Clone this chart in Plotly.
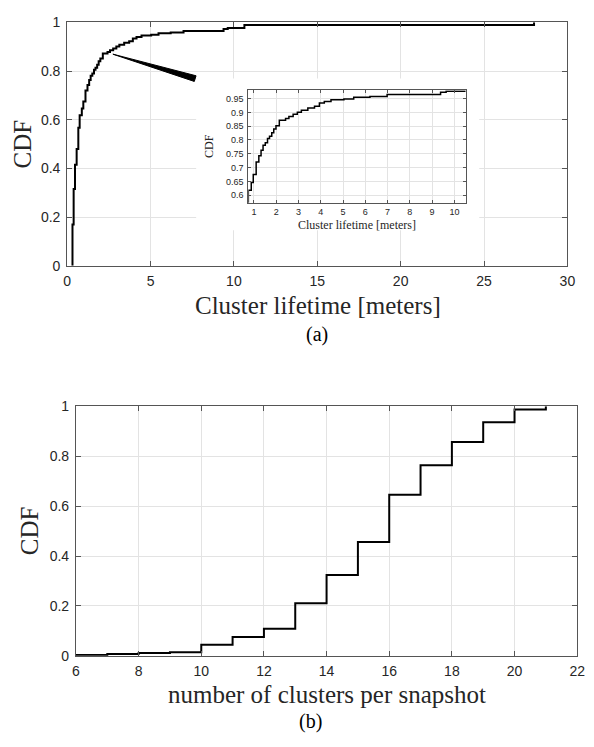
import plotly.graph_objects as go

# the page body keeps its default 8px margin, so the figure is drawn 8px in
OFF = 8
W, H = 594 - OFF, 747 - OFF

lifetime_m = [0.32, 0.39, 0.47, 0.57, 0.67, 0.75, 0.88, 0.97, 1.10, 1.22, 1.32, 1.41, 1.51,
              1.61, 1.70, 1.80, 1.89, 1.99, 2.14, 2.42, 2.57, 2.76, 2.95, 3.13, 3.42, 3.72,
              3.94, 4.16, 4.46, 5.04, 5.48, 6.21, 6.98, 9.38, 9.63, 10.63, 28.0]
lifetime_cdf = [0.17, 0.315, 0.415, 0.48, 0.567, 0.618, 0.646, 0.675, 0.72, 0.743, 0.763, 0.781, 0.79,
                0.805, 0.814, 0.826, 0.84, 0.852, 0.872, 0.878, 0.885, 0.893, 0.901, 0.908, 0.916, 0.922,
                0.934, 0.94, 0.946, 0.949, 0.955, 0.958, 0.965, 0.973, 0.977, 0.989, 1.0]

# (b) number of clusters per snapshot
n_clusters = [6, 7, 8, 9, 10, 11, 12, 13, 14, 15, 16, 17, 18, 19, 20, 21]
clusters_cdf = [0.003, 0.007, 0.011, 0.014, 0.044, 0.076, 0.109, 0.211, 0.324, 0.456,
                0.646, 0.764, 0.857, 0.936, 0.987, 1.0]

# pixel boxes of the three axes in the page (left, right, top, bottom)
box_a = (64.3, 575.0, 14.5, 263.3)
box_in = (249.3, 471.0, 84.0, 199.0)
box_b = (73.3, 585.0, 407.0, 662.0)


def px(x):
    return (x - OFF) / W


def py(y):
    return 1 - (y - OFF) / H


def dom_x(b):
    return [px(b[0]), px(b[1])]


def dom_y(b):
    return [py(b[3]), py(b[2])]


AX = '#555555'
GRID = '#e3e3e3'
TXT = '#262626'
SANS = 'Liberation Sans, Arial'
SERIF = 'Liberation Serif, Times New Roman'


def axis_style(**kw):
    d = dict(showline=True, linecolor=AX, linewidth=1, mirror='ticks', ticks='inside',
             ticklen=5, tickcolor=AX, showgrid=True, gridcolor=GRID, gridwidth=1,
             zeroline=False, tickfont=dict(family=SANS, size=14, color=TXT))
    d.update(kw)
    return d


fig = go.Figure()

x_a = [lifetime_m[0]] + lifetime_m
y_a = [0] + lifetime_cdf
fig.add_trace(go.Scatter(x=x_a, y=y_a, mode='lines', line=dict(color='black', width=2, shape='hv'),
                         xaxis='x', yaxis='y', showlegend=False, hoverinfo='skip'))
fig.add_trace(go.Scatter(x=x_a, y=y_a, mode='lines', line=dict(color='black', width=1.5, shape='hv'),
                         xaxis='x2', yaxis='y2', showlegend=False, hoverinfo='skip'))
fig.add_trace(go.Scatter(x=n_clusters, y=clusters_cdf, mode='lines',
                         line=dict(color='black', width=2, shape='hv'),
                         xaxis='x3', yaxis='y3', showlegend=False, hoverinfo='skip'))

xr_a, yr_a = (0, 30), (0, 1)


def to_data_a(pxx, pyy):
    l, r, t, b = box_a
    return (xr_a[0] + (pxx - l) / (r - l) * (xr_a[1] - xr_a[0]),
            yr_a[0] + (b - pyy) / (b - t) * (yr_a[1] - yr_a[0]))


# white panel behind the inset (hides the main grid there)
p0 = to_data_a(196, 227)
p1 = to_data_a(485, 72)
fig.add_shape(type='rect', xref='x', yref='y', x0=p0[0], y0=p0[1], x1=p1[0], y1=p1[1],
              fillcolor='white', line=dict(width=0), layer='between')

# wedge pointer towards the inset
tip = to_data_a(111, 47)
c1 = to_data_a(194.1, 74.9)
c2 = to_data_a(195.9, 69.1)
fig.add_shape(type='path', xref='x', yref='y',
              path='M %f %f L %f %f L %f %f Z' % (tip[0], tip[1], c1[0], c1[1], c2[0], c2[1]),
              fillcolor='black', line=dict(color='black', width=1), layer='above')

small = dict(family=SANS, size=9, color=TXT)


def label(text, x, y, size, angle=0, family=SERIF, color=TXT):
    return dict(text=text, x=px(x), y=py(y), xref='paper', yref='paper', showarrow=False,
                xanchor='center', yanchor='middle', textangle=angle,
                font=dict(family=family, size=size, color=color))


fig.update_layout(
    width=W, height=H, margin=dict(l=0, r=0, t=0, b=0),
    paper_bgcolor='white', plot_bgcolor='white',
    xaxis=axis_style(domain=dom_x(box_a), range=list(xr_a), dtick=5, tick0=0, anchor='y',
                     ticklabelstandoff=2),
    yaxis=axis_style(domain=dom_y(box_a), range=list(yr_a), dtick=0.2, tick0=0, anchor='x',
                     ticklabelstandoff=3),
    xaxis2=axis_style(domain=dom_x(box_in), range=[0.75, 10.5], dtick=1, tick0=1, anchor='y2',
                      ticklen=3, tickfont=small, ticklabelstandoff=0),
    yaxis2=axis_style(domain=dom_y(box_in), range=[0.572, 0.98], dtick=0.05, tick0=0.6, anchor='x2',
                      ticklen=3, tickfont=small, ticklabelstandoff=2),
    xaxis3=axis_style(domain=dom_x(box_b), range=[6, 22], dtick=2, tick0=6, anchor='y3',
                      ticklabelstandoff=2),
    yaxis3=axis_style(domain=dom_y(box_b), range=[0, 1], dtick=0.2, tick0=0, anchor='x3',
                      ticklabelstandoff=3),
    annotations=[
        label('CDF', 18.5, 139, 25, angle=-90),
        label('Cluster lifetime [meters]', 320, 304, 25),
        label('(a)', 319, 334, 20, color='black'),
        label('CDF', 209, 141, 12, angle=-90),
        label('Cluster lifetime [meters]', 360, 222, 12),
        label('CDF', 26, 534, 25, angle=-90),
        label('number of clusters per snapshot', 330, 702, 25),
        label('(b)', 313, 729, 20, color='black'),
    ],
)

fig.write_html('out.html')
